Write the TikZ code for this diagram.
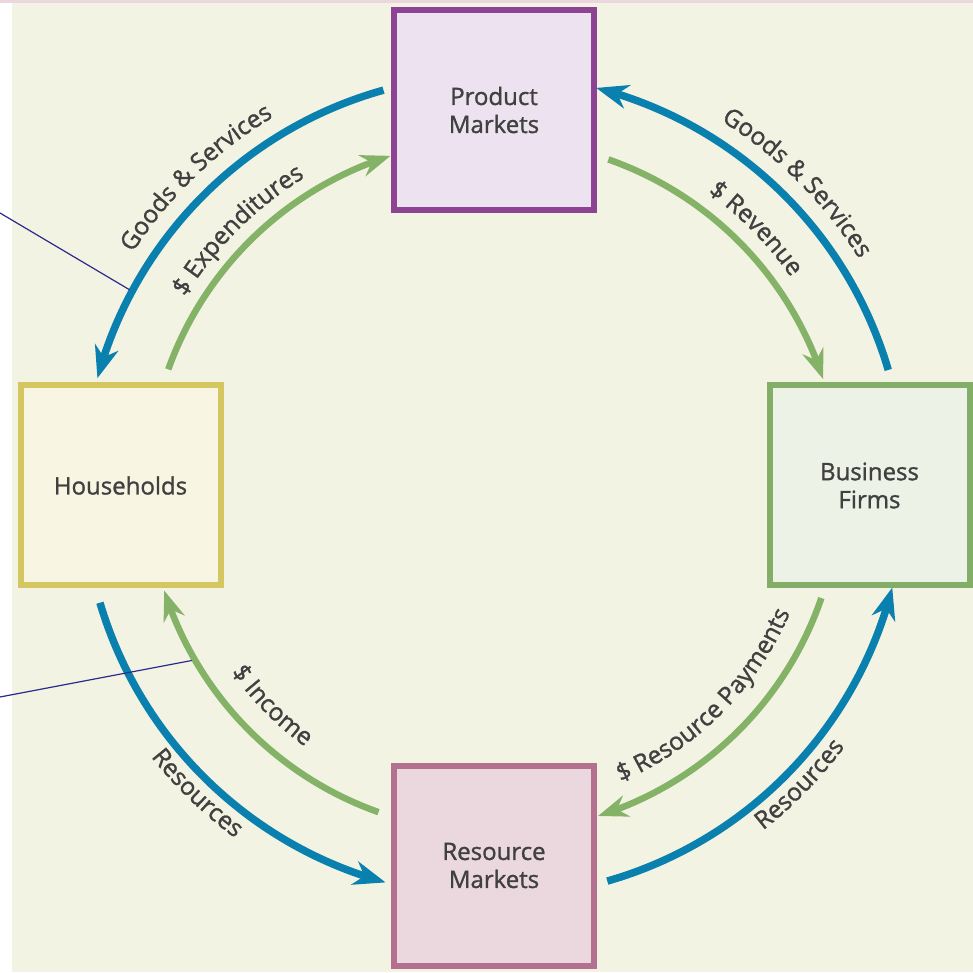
\documentclass[tikz,border=0pt]{standalone}
\usepackage{fontspec}
\setmainfont{Open Sans}
\setsansfont{Open Sans}
\newfontfamily\labfont{Open Sans}[FakeBold=1.2]
\usetikzlibrary{arrows.meta,bending,decorations.text}
\definecolor{cream}{HTML}{F3F3E4}
\definecolor{topstrip}{HTML}{EBD6DD}
\definecolor{flowblue}{HTML}{0A80AE}
\definecolor{flowgreen}{HTML}{84B267}
\definecolor{txt}{HTML}{404040}
\definecolor{navy}{HTML}{2B2A8C}
\definecolor{pmborder}{HTML}{8C4393}
\definecolor{pmfill}{HTML}{EDE3F0}
\definecolor{hhborder}{HTML}{D4C661}
\definecolor{hhfill}{HTML}{F8F6E3}
\definecolor{bfborder}{HTML}{82AE67}
\definecolor{bffill}{HTML}{EDF2E7}
\definecolor{rmborder}{HTML}{B4708F}
\definecolor{rmfill}{HTML}{EBD8DF}
\newcommand{\boxfont}{\labfont\fontsize{24}{28}\selectfont}
\newcommand{\arcfont}{\labfont\fontsize{24.5}{24.5}\selectfont}
\begin{document}
\begin{tikzpicture}[x=1pt,y=1pt,
  market/.style={draw, line width=6pt, minimum width=200pt, minimum height=200pt, inner sep=0pt, align=center, text=txt, font=\boxfont},
  blueflow/.style={draw=flowblue, line width=7.5pt, -{Stealth[length=32pt,width=24pt,inset=10pt,flex]}},
  greenflow/.style={draw=flowgreen, line width=6.5pt, -{Stealth[length=30pt,width=22pt,inset=10pt,flex]}},
  leader/.style={draw=navy, line width=1.2pt}
]
\useasboundingbox (0,0) rectangle (973,972);
\fill[white] (0,0) rectangle (973,972);
\fill[cream] (12,0) rectangle (973,969);
\fill[topstrip] (0,969) rectangle (973,972);

\coordinate (C) at (494,486);

\node[market, draw=pmborder, fill=pmfill] (pm) at (494,862) {Product\\Markets};
\node[market, draw=hhborder, fill=hhfill] (hh) at (120.5,486.5) {Households};
\node[market, draw=bfborder, fill=bffill] (bf) at (869.5,486.5) {Business\\Firms};
\node[market, draw=rmborder, fill=rmfill] (rm) at (494,106.5) {Resource\\Markets};

% flows: product markets <-> households
\coordinate (a1s) at ([shift={(C)}]105.6:411);
\draw[blueflow] (a1s) arc[start angle=105.6, end angle=164.8, radius=411];
\coordinate (a2s) at ([shift={(C)}]160.3:346);
\draw[greenflow] (a2s) arc[start angle=160.3, end angle=107.4, radius=346];
% business firms <-> product markets
\coordinate (a3s) at ([shift={(C)}]16.4:411);
\draw[blueflow] (a3s) arc[start angle=16.4, end angle=75.6, radius=411];
\coordinate (a4s) at ([shift={(C)}]70.7:346);
\draw[greenflow] (a4s) arc[start angle=70.7, end angle=18.0, radius=346];
% households <-> resource markets
\coordinate (a5s) at ([shift={(C)}]196.5:411);
\draw[blueflow] (a5s) arc[start angle=196.5, end angle=254.7, radius=411];
\coordinate (a6s) at ([shift={(C)}]250.5:346);
\draw[greenflow] (a6s) arc[start angle=250.5, end angle=197.6, radius=346];
% resource markets <-> business firms
\coordinate (a7s) at ([shift={(C)}]341.1:346);
\draw[greenflow] (a7s) arc[start angle=341.1, end angle=287.5, radius=346];
\coordinate (a8s) at ([shift={(C)}]286:411);
\draw[blueflow] (a8s) arc[start angle=286, end angle=345.7, radius=411];

% labels
\path[decorate, decoration={text along path, text align=center, text color=txt, text={|\arcfont|Goods {\&} Services}}]
  ([shift={(C)}]174:430) arc[start angle=174, end angle=94, radius=430];
\path[decorate, decoration={text along path, text align=center, text color=txt, text={|\arcfont|{\$} Expenditures}}]
  ([shift={(C)}]175:362) arc[start angle=175, end angle=95, radius=362];
\path[decorate, decoration={text along path, text align=center, text color=txt, text={|\arcfont|Goods {\&} Services}}]
  ([shift={(C)}]85:430) arc[start angle=85, end angle=5, radius=430];
\path[decorate, decoration={text along path, text align=center, text color=txt, text={|\arcfont|{\$} Revenue}}]
  ([shift={(C)}]84.5:363) arc[start angle=84.5, end angle=4.5, radius=363];
\path[decorate, decoration={text along path, text align=center, text color=txt, text={|\arcfont|{\$} Income}}]
  ([shift={(C)}]184.7:322) arc[start angle=184.7, end angle=264.7, radius=322];
\path[decorate, decoration={text along path, text align=center, text color=txt, text={|\arcfont|Resources}}]
  ([shift={(C)}]186:437) arc[start angle=186, end angle=266, radius=437];
\path[decorate, decoration={text along path, text align=center, text color=txt, text={|\arcfont|{\$} Resource Payments}}]
  ([shift={(C)}]275:322) arc[start angle=275, end angle=355, radius=322];
\path[decorate, decoration={text along path, text align=center, text color=txt, text={|\arcfont|Resources}}]
  ([shift={(C)}]275.7:437) arc[start angle=275.7, end angle=355.7, radius=437];

% leader lines
\coordinate (L1a) at (0,759);
\coordinate (L1b) at ([shift={(C)}]151.7:414);
\coordinate (L2a) at (0,275);
\coordinate (L2b) at ([shift={(C)}]210:349);
\draw[leader] (L1a) -- (L1b);
\draw[leader] (L2a) -- (L2b);
\end{tikzpicture}
\end{document}
